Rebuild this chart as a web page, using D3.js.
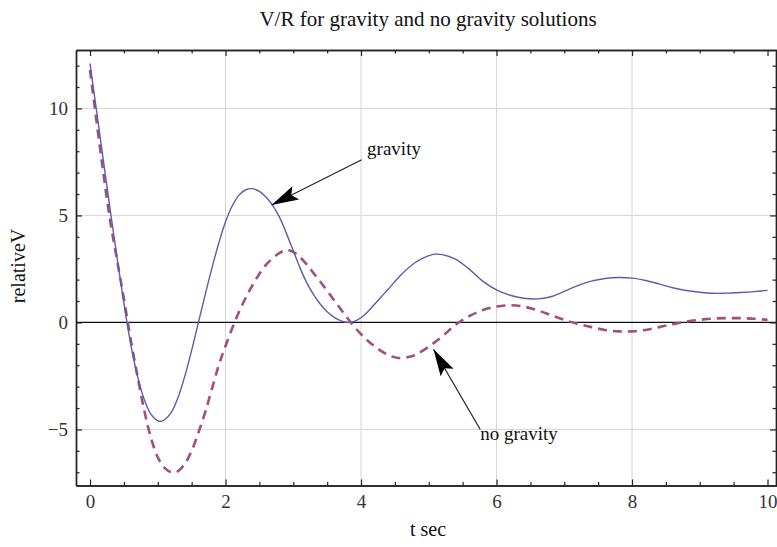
<!DOCTYPE html>
<html>
<head>
<meta charset="utf-8">
<script src="https://cdn.jsdelivr.net/npm/d3@7"></script>
<style>
  html, body { margin: 0; padding: 0; background: #fff; }
  svg { display: block; }
  text { font-family: "Liberation Serif", "Times New Roman", serif; }
</style>
</head>
<body>
<svg id="chart" width="777" height="547"></svg>
<script>
// ---- data ----
const title = "V/R for gravity and no gravity solutions";
const xLabel = "t sec";
const yLabel = "relativeV";

const xMajorTicks = [0, 2, 4, 6, 8, 10];
const xMinorTicks = [0.5, 1, 1.5, 2.5, 3, 3.5, 4.5, 5, 5.5, 6.5, 7, 7.5, 8.5, 9, 9.5];
const yMajorTicks = [-5, 0, 5, 10];
const yMinorTicks = [-7, -6, -4, -3, -2, -1, 1, 2, 3, 4, 6, 7, 8, 9, 11, 12];
const gridX = [2, 4, 6, 8];
const gridY = [-5, 5, 10];

// gravity solution (solid)
const tGravity = [0, 0.1, 0.2, 0.3, 0.4, 0.5, 0.6, 0.7, 0.8, 0.9, 1.0, 1.05, 1.1, 1.2, 1.3, 1.4, 1.5, 1.6, 1.7, 1.8, 1.9, 2.0, 2.1, 2.2, 2.3, 2.4, 2.5, 2.6, 2.7, 2.8, 2.9, 3.0, 3.1, 3.2, 3.3, 3.4, 3.5, 3.6, 3.7, 3.8, 3.9, 4.0, 4.1, 4.2, 4.3, 4.4, 4.6, 4.8, 5.0, 5.1, 5.2, 5.4, 5.6, 5.8, 6.0, 6.2, 6.4, 6.6, 6.8, 7.0, 7.2, 7.4, 7.6, 7.8, 8.0, 8.2, 8.4, 8.6, 8.8, 9.0, 9.2, 9.4, 9.6, 9.8, 10.0];
const vGravity = [12.1, 9.8, 7.5, 5.2, 3.0, 0.9, -1.0, -2.5, -3.6, -4.3, -4.6, -4.62, -4.55, -4.2, -3.5, -2.5, -1.3, 0.0, 1.3, 2.55, 3.7, 4.7, 5.45, 5.95, 6.2, 6.25, 6.12, 5.85, 5.45, 4.9, 4.15, 3.35, 2.55, 1.85, 1.3, 0.85, 0.5, 0.25, 0.08, 0.0, 0.05, 0.22, 0.5, 0.85, 1.2, 1.55, 2.25, 2.8, 3.12, 3.19, 3.17, 2.95, 2.48, 1.92, 1.52, 1.27, 1.13, 1.1, 1.2, 1.45, 1.72, 1.93, 2.05, 2.1, 2.07, 1.96, 1.8, 1.62, 1.49, 1.41, 1.36, 1.37, 1.4, 1.44, 1.5];

// no-gravity solution (dashed)
const tNoGravity = [0, 0.1, 0.2, 0.3, 0.4, 0.5, 0.6, 0.7, 0.8, 0.9, 1.0, 1.1, 1.2, 1.3, 1.4, 1.5, 1.6, 1.7, 1.8, 1.9, 2.0, 2.2, 2.4, 2.6, 2.8, 2.9, 3.0, 3.1, 3.2, 3.3, 3.4, 3.6, 3.8, 4.0, 4.2, 4.4, 4.55, 4.7, 4.8, 5.0, 5.2, 5.4, 5.6, 5.8, 6.0, 6.2, 6.4, 6.6, 6.8, 7.0, 7.2, 7.4, 7.6, 7.8, 8.0, 8.2, 8.4, 8.6, 8.8, 9.0, 9.2, 9.4, 9.6, 9.8, 10.0];
const vNoGravity = [11.8, 9.3, 6.9, 4.7, 2.9, 1.1, -0.8, -2.5, -4.1, -5.4, -6.3, -6.8, -7.0, -6.95, -6.6, -6.0, -5.15, -4.2, -3.1, -2.0, -1.1, 0.5, 1.75, 2.7, 3.25, 3.38, 3.3, 3.05, 2.7, 2.3, 1.9, 1.05, 0.2, -0.55, -1.12, -1.52, -1.66, -1.62, -1.52, -1.13, -0.65, -0.1, 0.3, 0.58, 0.74, 0.8, 0.74, 0.57, 0.35, 0.12, -0.07, -0.22, -0.35, -0.42, -0.42, -0.35, -0.22, -0.08, 0.04, 0.12, 0.18, 0.2, 0.2, 0.17, 0.12];

// annotations
const annLabels = ["gravity", "no gravity"];
const annLabelT = [4.09, 5.76];
const annLabelV = [8.1, -5.2];
const annTailT = [4.01, 5.76];
const annTailV = [7.6, -5.0];
const annTipT = [2.68, 5.07];
const annTipV = [5.49, -1.25];

// ---- drawing ----
const svg = d3.select("#chart");
const W = 777, H = 547;
const padL = 76, padR = 777, padT = 50, padB = 485.5;

const x = d3.scaleLinear().domain([-0.207, 10.14]).range([padL, padR]);
const y = d3.scaleLinear().domain([-7.62, 12.73]).range([padB, padT]);

svg.append("rect").attr("width", W).attr("height", H).attr("fill", "#fff");

// grid
svg.append("g").selectAll("line").data(gridX).join("line")
  .attr("x1", d => x(d)).attr("x2", d => x(d))
  .attr("y1", padT).attr("y2", padB)
  .attr("stroke", "#d6d6d6").attr("stroke-width", 1);
svg.append("g").selectAll("line").data(gridY).join("line")
  .attr("x1", padL).attr("x2", padR)
  .attr("y1", d => y(d)).attr("y2", d => y(d))
  .attr("stroke", "#d6d6d6").attr("stroke-width", 1);

// zero line
svg.append("line")
  .attr("x1", padL).attr("x2", padR)
  .attr("y1", y(0)).attr("y2", y(0))
  .attr("stroke", "#111").attr("stroke-width", 1.3);

// curves
const lineG = d3.line().x(d => x(d[0])).y(d => y(d[1])).curve(d3.curveCatmullRom.alpha(0.5));
const dataG = tGravity.map((t, i) => [t, vGravity[i]]);
const dataN = tNoGravity.map((t, i) => [t, vNoGravity[i]]);

svg.append("path").datum(dataN)
  .attr("d", lineG).attr("fill", "none")
  .attr("stroke", "#a0507a").attr("stroke-width", 2.6)
  .attr("stroke-dasharray", "9,6");
svg.append("path").datum(dataG)
  .attr("d", lineG).attr("fill", "none")
  .attr("stroke", "#5c5cac").attr("stroke-width", 1.4);

// axes (frame) with inward ticks
function styleAxis(g) {
  g.selectAll(".domain").attr("stroke", "#222").attr("stroke-width", 1.4);
  g.selectAll(".tick line").attr("stroke", "#222").attr("stroke-width", 1.2);
  g.selectAll("text").attr("fill", "#333").attr("font-size", 19)
    .attr("font-family", "'Liberation Serif', 'Times New Roman', serif");
}
const fmt = d3.format("d");

svg.append("g").attr("transform", `translate(0,${padB})`)
  .call(d3.axisBottom(x).tickValues(xMajorTicks).tickSizeInner(-6).tickSizeOuter(0).tickPadding(9).tickFormat(fmt))
  .call(styleAxis);
svg.append("g").attr("transform", `translate(0,${padB})`)
  .call(d3.axisBottom(x).tickValues(xMinorTicks).tickSizeInner(-3.5).tickSizeOuter(0).tickFormat(""))
  .call(styleAxis);
svg.append("g").attr("transform", `translate(0,${padT})`)
  .call(d3.axisTop(x).tickValues(xMajorTicks).tickSizeInner(-6).tickSizeOuter(0).tickFormat(""))
  .call(styleAxis);
svg.append("g").attr("transform", `translate(0,${padT})`)
  .call(d3.axisTop(x).tickValues(xMinorTicks).tickSizeInner(-3.5).tickSizeOuter(0).tickFormat(""))
  .call(styleAxis);

svg.append("g").attr("transform", `translate(${padL},0)`)
  .call(d3.axisLeft(y).tickValues(yMajorTicks).tickSizeInner(-6).tickSizeOuter(0).tickPadding(8).tickFormat(fmt))
  .call(styleAxis);
svg.append("g").attr("transform", `translate(${padL},0)`)
  .call(d3.axisLeft(y).tickValues(yMinorTicks).tickSizeInner(-3.5).tickSizeOuter(0).tickFormat(""))
  .call(styleAxis);
svg.append("g").attr("transform", `translate(${padR - 1},0)`)
  .call(d3.axisRight(y).tickValues(yMajorTicks).tickSizeInner(-6).tickSizeOuter(0).tickFormat(""))
  .call(styleAxis);
svg.append("g").attr("transform", `translate(${padR - 1},0)`)
  .call(d3.axisRight(y).tickValues(yMinorTicks).tickSizeInner(-3.5).tickSizeOuter(0).tickFormat(""))
  .call(styleAxis);

// arrowhead marker
const defs = svg.append("defs");
defs.append("marker")
  .attr("id", "arrowhead")
  .attr("markerUnits", "userSpaceOnUse")
  .attr("viewBox", "-29 -9 30 18")
  .attr("markerWidth", 30).attr("markerHeight", 18)
  .attr("refX", 0).attr("refY", 0)
  .attr("orient", "auto")
  .append("path")
  .attr("d", "M0,0 L-27,-7.5 L-22,0 L-27,7.5 Z")
  .attr("fill", "#000");

// annotations
annLabels.forEach((lab, i) => {
  svg.append("line")
    .attr("x1", x(annTailT[i])).attr("y1", y(annTailV[i]))
    .attr("x2", x(annTipT[i])).attr("y2", y(annTipV[i]))
    .attr("stroke", "#222").attr("stroke-width", 1.2)
    .attr("marker-end", "url(#arrowhead)");
  svg.append("text")
    .attr("x", x(annLabelT[i])).attr("y", y(annLabelV[i]))
    .attr("dy", "0.32em")
    .attr("font-size", 19).attr("fill", "#111")
    .text(lab);
});

// title and axis labels
svg.append("text")
  .attr("x", 428).attr("y", 26)
  .attr("text-anchor", "middle")
  .attr("font-size", 21).attr("fill", "#111")
  .text(title);
svg.append("text")
  .attr("x", 428).attr("y", 536)
  .attr("text-anchor", "middle")
  .attr("font-size", 20).attr("fill", "#111")
  .text(xLabel);
svg.append("text")
  .attr("transform", "translate(25,266) rotate(-90)")
  .attr("text-anchor", "middle")
  .attr("font-size", 20).attr("fill", "#111")
  .text(yLabel);
</script>
</body>
</html>
